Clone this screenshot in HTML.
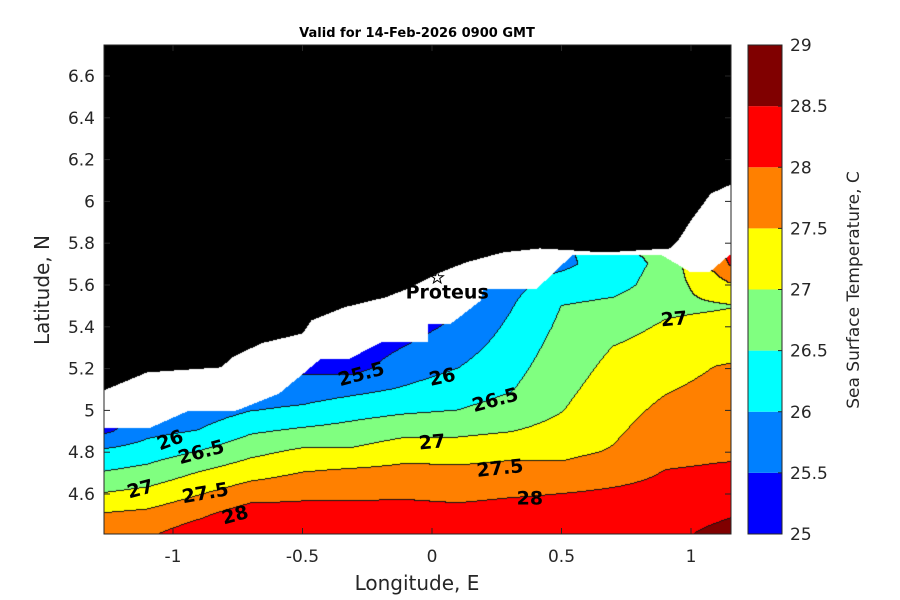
<!DOCTYPE html>
<html><head><meta charset="utf-8"><style>
html,body{margin:0;padding:0;background:#fff;width:900px;height:600px;overflow:hidden}
#wrap{position:relative;width:900px;height:600px;font-family:"DejaVu Sans","Liberation Sans",sans-serif}
canvas{position:absolute;left:104px;top:45px}
svg{position:absolute;left:0;top:0}
svg text{font-family:"DejaVu Sans","Liberation Sans",sans-serif}
</style></head><body>
<div id="wrap">
<canvas id="field" width="627" height="489"></canvas>
<svg id="ov" width="900" height="600"></svg>
</div>
<script>
// ---- data ----
const lonGrid = [-1.3,-1.1,-0.9,-0.7,-0.5,-0.3,-0.1,0.1,0.3,0.5,0.7,0.9,1.1,1.3];
const latGrid = [4.4,4.5,4.6,4.7,4.8,4.9,5.0,5.1,5.2,5.3,5.4,5.5,5.6,5.7,5.8];
// sst by column (lon), values from south (4.4) to north (5.8)
const sstCol0  = [27.9,27.53,27.0,26.5,26.07,25.3,25.0,24.8,24.8,24.8,24.8,24.8,24.8,24.8,24.8];
const sstCol1  = [27.95,27.62,27.15,26.67,26.25,25.85,25.5,25.3,25.2,25.2,25.2,25.2,25.2,25.2,25.2];
const sstCol2  = [28.3,27.91,27.47,27.02,26.52,26.02,25.7,25.5,25.3,25.2,25.2,25.2,25.2,25.2,25.2];
const sstCol3  = [28.4,28.27,27.78,27.31,26.87,26.43,25.98,25.7,25.5,25.3,25.2,25.2,25.2,25.2,25.2];
const sstCol4  = [28.4,28.2,27.89,27.51,27.1,26.58,26.09,25.73,25.4,25.3,25.2,25.2,25.2,25.2,25.2];
const sstCol5  = [28.4,28.2,27.9,27.61,27.09,26.69,26.3,25.87,25.35,25.2,25.1,25.1,25.1,25.1,25.1];
const sstCol6  = [28.4,28.2,27.92,27.65,27.32,26.86,26.42,26.05,25.78,25.52,25.3,25.2,25.2,25.2,25.2];
const sstCol7  = [28.4,28.15,27.88,27.64,27.26,26.89,26.5,26.25,26.0,25.8,25.6,25.4,25.3,25.3,25.3];
const sstCol8  = [28.4,28.2,27.95,27.68,27.37,26.98,26.69,26.46,26.33,26.2,26.08,25.95,25.85,25.8,25.8];
const sstCol9  = [28.4,28.2,28.0,27.65,27.38,27.16,26.98,26.88,26.78,26.69,26.59,26.5,26.18,25.9,25.8];
const sstCol10 = [28.3,28.2,28.08,27.81,27.54,27.42,27.32,27.22,27.12,27.01,26.84,26.63,26.3,26.2,26.6];
const sstCol11 = [28.35,28.25,28.15,28.02,27.88,27.74,27.6,27.46,27.32,27.18,27.05,26.9,26.75,26.65,26.6];
const sstCol12 = [28.65,28.4,28.25,28.06,27.93,27.83,27.73,27.63,27.52,27.34,27.15,26.95,27.3,27.7,28.0];
const sstCol13 = [29.0,28.6,28.35,28.1,27.95,27.85,27.75,27.65,27.6,27.45,27.2,27.05,27.9,29.0,29.0];
const levels = [25,25.5,26,26.5,27,27.5,28,28.5,29];
const levelColors = ['#0000ff','#0080ff','#00ffff','#80ff80','#ffff00','#ff8000','#ff0000','#800000'];
const xTicks = [-1,-0.5,0,0.5,1];
const xTickLabels = ['-1','-0.5','0','0.5','1'];
const yTicks = [4.6,4.8,5.0,5.2,5.4,5.6,5.8,6.0,6.2,6.4,6.6];
const yTickLabels = ['4.6','4.8','5','5.2','5.4','5.6','5.8','6','6.2','6.4','6.6'];
const cbTicks = [25,25.5,26,26.5,27,27.5,28,28.5,29];
const cbTickLabels = ['25','25.5','26','26.5','27','27.5','28','28.5','29'];
// coastline (land above), lon/lat
const coastLon = [-1.266,-1.1,-0.815,-0.77,-0.66,-0.5,-0.465,-0.34,-0.18,-0.089,0.023,0.131,0.274,0.417,0.668,0.919,0.95,1.0,1.077,1.147,1.16];
const coastLat = [5.096,5.182,5.206,5.254,5.321,5.368,5.431,5.493,5.541,5.584,5.656,5.708,5.756,5.775,5.756,5.775,5.813,5.909,6.038,6.077,6.08];
// southern edge of missing data (white zone), lon/lat
const dataTopLon = [-1.27,-1.093,-0.946,-0.764,-0.59,-0.506,-0.432,-0.324,-0.197,-0.015,-0.014,0.069,0.189,0.197,0.402,0.541,0.888,1.0,1.07,1.147,1.16];
const dataTopLat = [4.914,4.914,4.995,4.995,5.081,5.167,5.244,5.244,5.325,5.325,5.411,5.411,5.526,5.579,5.579,5.742,5.742,5.66,5.66,5.742,5.742];
const stationLon = [0.02];
const stationLat = [5.635];
const stationNames = ['Proteus'];
const contourLabelText = ['25.5','26','26.5','27','27.5','28','26','26.5','27','27.5','28','27'];
const contourLabelLon = [-0.274,0.039,0.243,0.0,0.262,0.378,-1.012,-0.892,-1.127,-0.876,-0.761,0.934];
const contourLabelLat = [5.177,5.163,5.053,4.852,4.727,4.584,4.861,4.804,4.627,4.608,4.503,5.441];
const contourLabelRot = [-15,-12,-15,-5,-6,0,-20,-15,-15,-10,-15,-5];

// ---- axes ----
const PL=104, PT=45, PR=731, PB=534;
const lonMin=-1.2664, lonMax=1.1544, latMin=4.4086, latMax=6.7483;
const xs = lon => PL + (lon-lonMin)/(lonMax-lonMin)*(PR-PL);
const ys = lat => PB - (lat-latMin)/(latMax-latMin)*(PB-PT);
const xinv = x => lonMin + (x-PL)/(PR-PL)*(lonMax-lonMin);
const yinv = y => latMin + (PB-y)/(PB-PT)*(latMax-latMin);
const CBL=748, CBR=782, CBT=45, CBB=534;
const cby = v => CBB - (v-25)/4*(CBB-CBT);

const cols=[sstCol0,sstCol1,sstCol2,sstCol3,sstCol4,sstCol5,sstCol6,sstCol7,sstCol8,sstCol9,sstCol10,sstCol11,sstCol12,sstCol13];
function sst(lon,lat){
  let fc=(lon-lonGrid[0])/(lonGrid[1]-lonGrid[0]);
  let fr=(lat-latGrid[0])/(latGrid[1]-latGrid[0]);
  fc=Math.max(0,Math.min(lonGrid.length-1.0001,fc));
  fr=Math.max(0,Math.min(latGrid.length-1.0001,fr));
  const c=Math.floor(fc), r=Math.floor(fr), tc=fc-c, tr=fr-r;
  const a=cols[c][r], b=cols[c+1][r], d=cols[c][r+1], e=cols[c+1][r+1];
  return (a*(1-tc)+b*tc)*(1-tr)+(d*(1-tc)+e*tc)*tr;
}
function pwl(xa,ya,x){
  if(x<=xa[0])return ya[0];
  for(let i=1;i<xa.length;i++){ if(x<=xa[i]){const t=(x-xa[i-1])/(xa[i]-xa[i-1]||1);return ya[i-1]+t*(ya[i]-ya[i-1]);} }
  return ya[ya.length-1];
}
function lvl(T){let k=0;for(let i=1;i<levels.length-1;i++){if(T>=levels[i])k=i;}return k;}
function hex(c){return [parseInt(c.substr(1,2),16),parseInt(c.substr(3,2),16),parseInt(c.substr(5,2),16)];}
const rgb=levelColors.map(hex);

// ---- field ----
const cv=document.getElementById('field');
const ctx=cv.getContext('2d');
const W=cv.width,H=cv.height;
const img=ctx.createImageData(W,H);
const kind=new Int8Array(W*H); // -2 land, -1 nodata, else level
for(let px=0;px<W;px++){
  const lon=xinv(PL+px+0.5);
  const coastY=ys(pwl(coastLon,coastLat,lon));
  const topY=ys(pwl(dataTopLon,dataTopLat,lon));
  for(let py=0;py<H;py++){
    const y=PT+py+0.5;
    let k;
    if(y<coastY)k=-2;else if(y<topY)k=-1;else k=lvl(sst(lon,yinv(y)));
    kind[py*W+px]=k;
  }
}
for(let py=0;py<H;py++)for(let px=0;px<W;px++){
  const i=py*W+px,k=kind[i];let c;
  if(k===-2)c=[0,0,0];else if(k===-1)c=[255,255,255];else{
    c=rgb[k];
    const r=px+1<W?kind[i+1]:k, dn=py+1<H?kind[i+W]:k;
    if((r>=0&&r!==k)||(dn>=0&&dn!==k))c=[20,20,20];
  }
  img.data[i*4]=c[0];img.data[i*4+1]=c[1];img.data[i*4+2]=c[2];img.data[i*4+3]=255;
}
ctx.putImageData(img,0,0);

// ---- overlay ----
const NS='http://www.w3.org/2000/svg';
const ov=document.getElementById('ov');
function mk(tag,attrs,parent){const e=document.createElementNS(NS,tag);for(const k in attrs)e.setAttribute(k,attrs[k]);(parent||ov).appendChild(e);return e;}

// contour labels
for(let i=0;i<contourLabelText.length;i++){
  const x=xs(contourLabelLon[i]), y=ys(contourLabelLat[i]);
  const t=mk('text',{x:x,y:y+7,'text-anchor':'middle','font-size':'19','font-weight':'bold',fill:'#000',transform:`rotate(${contourLabelRot[i]} ${x} ${y})`});
  
  
  t.textContent=contourLabelText[i];
}
// station
for(let i=0;i<stationLon.length;i++){
  const cx=xs(stationLon[i]), cy=ys(stationLat[i]);
  let pts=[];for(let j=0;j<10;j++){const a=-Math.PI/2+j*Math.PI/5,r=j%2?2.6:6.5;pts.push((cx+r*Math.cos(a)).toFixed(1)+','+(cy+r*Math.sin(a)).toFixed(1));}
  const s=mk('polygon',{points:pts.join(' '),fill:'#fff',stroke:'#000','stroke-width':'1'});
  
  
  const t=mk('text',{x:cx+10,y:cy+21,'text-anchor':'middle','font-size':'19','font-weight':'bold',fill:'#000'});
  
  
  t.textContent=stationNames[i];
}
// frame
const fr=mk('rect',{x:PL,y:PT,width:PR-PL,height:PB-PT,fill:'none',stroke:'#262626','stroke-width':'1'});


// x ticks
for(let i=0;i<xTicks.length;i++){
  const x=xs(xTicks[i]);
  mk('line',{x1:x,y1:PB,x2:x,y2:PB-6,stroke:'#262626'});
  mk('line',{x1:x,y1:PT,x2:x,y2:PT+6,stroke:'#262626'});
  const t=mk('text',{x:x,y:PB+28,'text-anchor':'middle','font-size':'17',fill:'#262626'});
  
  
  t.textContent=xTickLabels[i];
}
for(let i=0;i<yTicks.length;i++){
  const y=ys(yTicks[i]);
  mk('line',{x1:PL,y1:y,x2:PL+6,y2:y,stroke:'#262626'});
  mk('line',{x1:PR,y1:y,x2:PR-6,y2:y,stroke:'#262626'});
  const t=mk('text',{x:PL-9,y:y+6,'text-anchor':'end','font-size':'17',fill:'#262626'});
  
  
  t.textContent=yTickLabels[i];
}
// colorbar
for(let i=0;i<levelColors.length;i++){
  const r=mk('rect',{x:CBL,y:cby(levels[i+1]),width:CBR-CBL,height:cby(levels[i])-cby(levels[i+1]),fill:levelColors[i]});
  
  
}
const cbf=mk('rect',{x:CBL,y:CBT,width:CBR-CBL,height:CBB-CBT,fill:'none',stroke:'#262626'});


for(let i=0;i<cbTicks.length;i++){
  const y=cby(cbTicks[i]);
  mk('line',{x1:CBR,y1:y,x2:CBR-4,y2:y,stroke:'#262626'});
  const t=mk('text',{x:CBR+8,y:y+6,'font-size':'17',fill:'#262626'});
  
  
  t.textContent=cbTickLabels[i];
}
</script>
<svg width="900" height="600" style="position:absolute;left:0;top:0;pointer-events:none">
<text x="417" y="37" text-anchor="middle" font-size="13" font-weight="bold" fill="#000">Valid for 14-Feb-2026 0900 GMT</text>
<text x="417" y="590" text-anchor="middle" font-size="20" fill="#262626">Longitude, E</text>
<text x="0" y="0" transform="translate(49 290) rotate(-90)" text-anchor="middle" font-size="20" fill="#262626">Latitude, N</text>
<text x="0" y="0" transform="translate(859 290) rotate(-90)" text-anchor="middle" font-size="17" fill="#262626">Sea Surface Temperature, C</text>
</svg>
</body></html>
